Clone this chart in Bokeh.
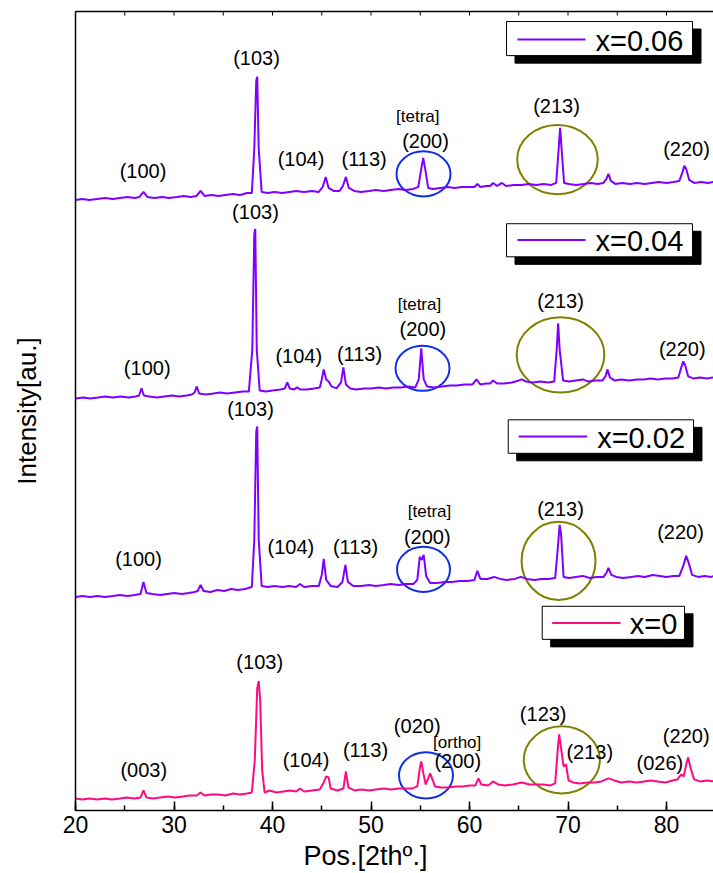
from bokeh.plotting import figure
from bokeh.models import (Range1d, LinearAxis, SingleIntervalTicker, ColumnDataSource,
                          Title, FixedTicker)
from bokeh.core.properties import value
from bokeh.embed import file_html
from bokeh.resources import INLINE

FONT = "Liberation Sans"

# ---------------- data (2theta in degrees, intensity in a.u.) ----------------
labels_x = ["x=0.06", "x=0.04", "x=0.02", "x=0"]
offsets = [600, 400, 200, 0]
colors = ["#8000ff", "#8000ff", "#8000ff", "#ff0a80"]

tt_006 = [20, 20.7, 21.4, 22.2, 23, 23.8, 24.5, 25.3, 26, 26.5, 26.9, 27.3, 28, 28.8, 29.5, 30.3,
          31, 31.7, 32.3, 32.7, 33.1, 33.8, 34.5, 35.2, 36, 36.7, 37.4, 37.9, 38.15, 38.35, 38.45,
          38.6, 38.9, 39.5, 40.2, 41, 41.7, 42.4, 43.2, 44, 44.7, 45.1, 45.4, 45.7, 46.2, 46.8,
          47.15, 47.45, 47.75, 48.3, 49, 49.8, 50.5, 51.3, 52, 52.8, 53.5, 54.3, 54.8, 55.1, 55.3,
          55.5, 55.8, 56.3, 57, 57.8, 58.5, 59.2, 60, 60.5, 60.8, 61.1, 61.7, 62.1, 62.4, 62.8,
          63.3, 63.7, 64.5, 65.3, 66, 66.8, 67.5, 68.3, 68.8, 69.05, 69.2, 69.35, 69.6, 70.1, 70.8,
          71.6, 72.3, 73, 73.6, 73.9, 74.1, 74.35, 74.8, 75.5, 76.3, 77, 77.8, 78.5, 79.2, 80,
          80.7, 81.3, 81.6, 81.8, 82.0, 82.3, 82.8, 83.5, 84.2, 84.8]
I_006 = [9, 10, 9, 10, 11, 10, 11, 12, 11, 12, 17, 12, 11, 12, 11, 12,
         13, 12, 13, 18, 13, 14, 13, 14, 15, 14, 16, 16, 60, 128, 132,
         60, 17, 16, 17, 16, 17, 18, 17, 18, 17, 22, 32, 21, 18, 18,
         23, 32, 21, 18, 17, 18, 19, 18, 19, 20, 19, 20, 22, 40, 51,
         40, 21, 20, 21, 22, 21, 22, 22, 22, 25, 22, 23, 23, 26, 23,
         26, 23, 24, 24, 25, 24, 25, 24, 26, 60, 81, 60, 26, 25, 24,
         25, 26, 25, 26, 30, 35, 28, 25, 26, 25, 26, 25, 26, 27, 26,
         27, 28, 36, 43, 40, 29, 26, 27, 26, 27]

tt_004 = [20, 20.8, 21.5, 22.3, 23, 23.8, 24.6, 25.4, 26.1, 26.45, 26.7, 26.95, 27.5, 28.3, 29,
          29.8, 30.5, 31.3, 31.8, 32.1, 32.3, 32.55, 33.2, 34, 34.7, 35.4, 36.2, 37, 37.6, 37.95,
          38.15, 38.25, 38.4, 38.7, 39.3, 40, 40.8, 41.25, 41.5, 41.75, 42.2, 42.5, 42.8, 43.5,
          44.2, 44.8, 45.0, 45.2, 45.45, 45.7, 46, 46.5, 46.95, 47.2, 47.45, 47.9, 48.5, 49.3, 50,
          50.8, 51.5, 52.3, 53, 53.8, 54.5, 54.85, 55.1, 55.35, 55.7, 56.4, 57.2, 58, 58.7, 59.5,
          60.3, 60.7, 61.1, 61.7, 62.1, 62.4, 62.8, 63.5, 64.3, 65, 65.3, 65.7, 66.4, 67.2, 68,
          68.6, 68.85, 69.0, 69.15, 69.5, 70.1, 70.8, 71.5, 72, 72.8, 73.5, 73.8, 74.0, 74.25,
          74.7, 75.4, 76.2, 77, 77.7, 78.4, 79.1, 79.9, 80.6, 81.2, 81.5, 81.7, 81.9, 82.2, 82.7,
          83.4, 84.1, 84.8]
I_004 = [11, 12, 11, 12, 13, 12, 13, 12, 13, 14, 21, 14, 13, 12, 13,
         14, 13, 14, 15, 17, 23, 16, 15, 16, 17, 16, 17, 18, 18, 60,
         175, 180, 60, 19, 18, 19, 20, 21, 27, 21, 20, 22, 20, 20,
         21, 22, 30, 40, 30, 28, 23, 21, 27, 42, 25, 21, 20, 21, 21,
         22, 21, 22, 22, 23, 22, 30, 61, 30, 23, 22, 23, 24, 24, 25,
         25, 30, 25, 26, 26, 29, 26, 26, 27, 29, 30, 28, 27, 28, 27,
         28, 60, 86, 60, 29, 28, 29, 30, 28, 29, 29, 33, 40, 32,
         29, 30, 29, 30, 30, 31, 30, 31, 31, 32, 42, 48, 44, 33, 31,
         32, 31, 32]

tt_002 = [20, 20.7, 21.5, 22.2, 23, 23.8, 24.5, 25.3, 26, 26.6, 26.9, 27.2, 27.8, 28.6, 29.3, 30,
          30.8, 31.5, 32.1, 32.4, 32.7, 33.0, 33.7, 34.4, 35.1, 35.8, 36.5, 37.2, 37.9, 38.15,
          38.35, 38.45, 38.6, 38.9, 39.5, 40.2, 41, 41.7, 42.4, 42.8, 43.2, 44, 44.7, 45.0, 45.2,
          45.45, 45.9, 46.6, 47.1, 47.4, 47.65, 48.2, 49, 49.8, 50.5, 51.3, 52, 52.8, 53.5, 54.3,
          54.7, 54.95, 55.15, 55.35, 55.6, 56, 56.7, 57.5, 58.2, 59, 59.8, 60.5, 60.8, 61.1, 61.8,
          62.5, 63.1, 63.8, 64.6, 65.2, 65.8, 66.6, 67.3, 68, 68.7, 68.95, 69.15, 69.3, 69.55,
          70.1, 70.8, 71.5, 72.2, 72.9, 73.6, 73.9, 74.1, 74.4, 74.9, 75.6, 76.4, 77.1, 77.8,
          78.6, 79.3, 80, 80.7, 81.3, 81.7, 82.0, 82.25, 82.6, 83.2, 83.9, 84.5, 84.8]
I_002 = [13, 14, 13, 14, 13, 14, 15, 14, 15, 16, 28, 17, 16, 15, 16, 17,
         16, 17, 18, 19, 25, 19, 18, 20, 19, 21, 20, 21, 23, 70,
         178, 183, 70, 24, 23, 24, 23, 24, 23, 26, 23, 24, 24, 35, 51,
         30, 24, 23, 28, 45, 28, 24, 24, 25, 24, 25, 26, 25, 26, 26,
         30, 53, 50, 55, 34, 27, 27, 28, 28, 29, 29, 30, 39, 31, 31,
         33, 31, 30, 31, 33, 31, 30, 31, 31, 32, 60, 85, 75, 33,
         32, 33, 34, 32, 33, 33, 37, 42, 35, 33, 32, 33, 34, 33,
         35, 34, 33, 34, 34, 44, 54, 47, 35, 33, 34, 33, 34]

tt_000 = [20, 20.7, 21.4, 22.2, 23, 23.7, 24.5, 25.2, 26, 26.6, 26.9, 27.2, 27.9, 28.6, 29.4, 30.1,
          30.9, 31.6, 32.3, 32.7, 33.1, 33.8, 34.5, 35.2, 36, 36.7, 37.4, 37.9, 38.2, 38.45, 38.6,
          38.75, 38.95, 39.2, 39.7, 40.4, 41.1, 41.8, 42.4, 42.8, 43.2, 44, 44.8, 45.2, 45.45,
          45.7, 45.9, 46.6, 47.2, 47.45, 47.7, 48.3, 49, 49.8, 50.5, 51.3, 52, 52.8, 53.5, 54.2,
          54.7, 54.95, 55.1, 55.3, 55.55, 55.8, 56.0, 56.2, 56.5, 57.1, 57.8, 58.6, 59.3, 60,
          60.6, 60.9, 61.2, 61.9, 62.4, 62.9, 63.6, 64.4, 65.3, 66.1, 66.8, 67.5, 68.2, 68.7,
          68.95, 69.1, 69.3, 69.55, 69.8, 70.05, 70.5, 71.2, 72, 72.7, 73.4, 74.1, 74.7, 75.4,
          76.2, 77, 77.7, 78.4, 79.1, 79.9, 80.6, 81.1, 81.5, 81.75, 82.0, 82.2, 82.45, 82.8,
          83.4, 84.1, 84.8]
I_000 = [12, 11, 12, 11, 12, 11, 12, 13, 12, 13, 20, 13, 12, 13, 14, 13,
         14, 15, 15, 18, 15, 16, 16, 15, 17, 16, 17, 18, 50, 122, 129,
         110, 40, 18, 20, 18, 19, 20, 19, 22, 19, 20, 21, 28, 34,
         33, 22, 20, 22, 39, 23, 20, 21, 20, 21, 22, 21, 22, 22, 22,
         24, 42, 49, 38, 26, 32, 37, 32, 24, 23, 23, 24, 24, 25,
         25, 32, 26, 25, 29, 26, 25, 26, 28, 26, 26, 26, 25, 27,
         60, 76, 62, 44, 46, 30, 28, 27, 28, 28, 29, 32, 30, 28,
         29, 28, 29, 30, 29, 28, 30, 31, 36, 34, 46, 53, 42, 31,
         29, 30, 29]

two_theta = [tt_006, tt_004, tt_002, tt_000]
intensity = [I_006, I_004, I_002, I_000]

# Miller-index annotations (text, 2theta, stacked intensity)
hkl_text = ["(100)", "(103)", "(104)", "(113)", "(200)", "(213)", "(220)",
            "(103)", "(100)", "(104)", "(113)", "(200)", "(213)", "(220)",
            "(103)", "(100)", "(104)", "(113)", "(200)", "(213)", "(220)",
            "(103)", "(003)", "(104)", "(113)", "(020)", "(200)", "(123)", "(213)", "(026)", "(220)"]
hkl_x = [26.85, 38.38, 42.89, 49.3, 55.53, 68.83, 82.03,
         38.27, 27.28, 42.67, 48.83, 55.26, 69.24, 81.6,
         37.77, 26.4, 41.86, 48.43, 55.71, 69.24, 81.42,
         38.7, 26.93, 43.4, 49.44, 54.69, 58.81, 67.48, 72.21, 79.32, 82.0]
hkl_y = [638, 751, 650, 650, 668, 703, 660,
         597, 441, 453, 455, 480, 508, 460,
         400, 251, 263, 263, 273, 301, 278,
         148, 40, 50, 60, 84, 49, 96, 58, 47, 74]

phase_text = ["[tetra]", "[tetra]", "[tetra]", "[ortho]"]
phase_x = [54.75, 54.92, 55.94, 58.75]
phase_y = [692, 505, 298, 68]

# highlight ellipses around (200) and (213) peaks
blue_x = [55.33, 55.23, 55.33, 55.58]
blue_y = [635, 441.2, 240.5, 35]
blue_w = [5.48, 5.48, 5.38, 5.48]
blue_h = [45, 45, 45, 46]
olive_x = [68.93, 69.24, 69.04, 69.37]
olive_y = [649.3, 454.5, 249, 50.5]
olive_w = [8.18, 8.9, 7.51, 7.72]
olive_h = [69, 75, 78, 67]

# legend boxes (one per pattern)
leg_left = [63.76, 63.76, 63.93, 67.38]
leg_right = [82.64, 82.64, 82.74, 81.83]
leg_bottom = [753, 552.3, 356.3, 170.7]
leg_top = [787, 585.3, 389.7, 203.7]
leg_line_x0 = [64.87, 64.87, 65.0, 68.39]
leg_line_x1 = [71.78, 71.78, 71.95, 75.33]
leg_line_y = [769, 569, 373, 187]
leg_text_x = [72.79, 72.79, 72.96, 76.28]
leg_text_y = [768, 568, 372, 186]
shadow_dx, shadow_dy = 0.86, 7.5

# small ticks along the top frame edge
top_ticks = [20, 25, 30, 35, 40, 45, 50, 55, 60, 65, 70, 75, 80]

# ---------------- figure ----------------
p = figure(width=713, height=873, x_range=Range1d(20, 84.77), y_range=Range1d(0, 797),
           output_backend="svg", toolbar_location=None,
           min_border_left=75, min_border_right=0, min_border_top=11, min_border_bottom=0)
p.outline_line_color = None
p.grid.visible = False
p.background_fill_color = "white"
p.border_fill_color = "white"

xa = p.xaxis[0]
xa.ticker = SingleIntervalTicker(interval=10, num_minor_ticks=2)
xa.major_tick_in = 9
xa.major_tick_out = 0
xa.minor_tick_in = 5
xa.minor_tick_out = 0
xa.axis_line_width = 1.5
xa.major_tick_line_width = 1.5
xa.minor_tick_line_width = 1.5
xa.major_label_standoff = 5
xa.major_label_text_font = FONT
xa.major_label_text_font_size = "23px"
xa.major_label_text_color = "black"

ya = p.yaxis[0]
ya.ticker = FixedTicker(ticks=[])
ya.major_tick_in = 0
ya.major_tick_out = 0
ya.minor_tick_in = 0
ya.minor_tick_out = 0
ya.major_label_standoff = 0
ya.axis_line_width = 1.5
ya.axis_label = "Intensity[au.]"
ya.axis_label_text_font = FONT
ya.axis_label_text_font_size = "26px"
ya.axis_label_text_font_style = "normal"
ya.axis_label_text_color = "black"
ya.axis_label_standoff = 34

top = LinearAxis(ticker=FixedTicker(ticks=[]), major_tick_in=0, major_tick_out=0,
                 minor_tick_in=0, minor_tick_out=0, major_label_standoff=0,
                 axis_line_width=1.5)
p.add_layout(top, "above")

xt = Title(text="Pos.[2thº.]", align="left", offset=228, text_font=FONT,
           text_font_size="27px", text_font_style="normal", text_color="black", standoff=6)
p.add_layout(xt, "below")

# top-edge ticks
p.segment(x0=top_ticks, x1=top_ticks, y0=[797] * len(top_ticks), y1=[793] * len(top_ticks),
          line_color="black", line_width=1)

# ellipses
p.ellipse(x=blue_x, y=blue_y, width=blue_w, height=blue_h, fill_color=None,
          line_color="#0f2fe6", line_width=2)
p.ellipse(x=olive_x, y=olive_y, width=olive_w, height=olive_h, fill_color=None,
          line_color="#808000", line_width=2)

# patterns
for tt, inten, off, col in zip(two_theta, intensity, offsets, colors):
    src = ColumnDataSource(dict(x=tt, y=[v + off for v in inten]))
    p.line("x", "y", source=src, line_color=col, line_width=2)

# annotations
p.text(x=hkl_x, y=hkl_y, text=hkl_text, text_font=value(FONT), text_font_size="20px",
       text_align="center", text_baseline="middle", text_color="black")
p.text(x=phase_x, y=phase_y, text=phase_text, text_font=value(FONT), text_font_size="17px",
       text_align="center", text_baseline="middle", text_color="black")

# legends with drop shadows
p.quad(left=[v + shadow_dx for v in leg_left], right=[v + shadow_dx for v in leg_right],
       bottom=[v - shadow_dy for v in leg_bottom], top=[v - shadow_dy for v in leg_top],
       fill_color="black", line_color="black")
p.quad(left=leg_left, right=leg_right, bottom=leg_bottom, top=leg_top,
       fill_color="white", line_color="black", line_width=1)
p.segment(x0=leg_line_x0, x1=leg_line_x1, y0=leg_line_y, y1=leg_line_y,
          line_color=colors, line_width=2)
p.text(x=leg_text_x, y=leg_text_y, text=labels_x, text_font=value(FONT),
       text_font_size="29px", text_align="left", text_baseline="middle", text_color="black")

open("out.html", "w").write(file_html(p, INLINE))
